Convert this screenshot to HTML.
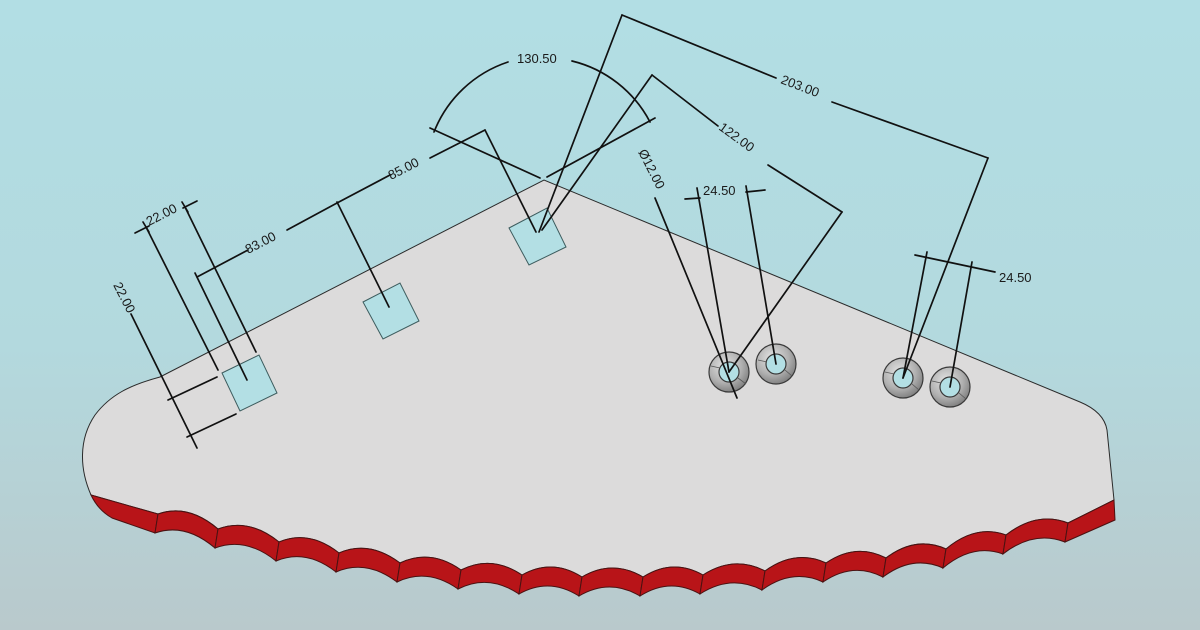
<!DOCTYPE html>
<html><head><meta charset="utf-8"><style>
html,body{margin:0;padding:0;width:1200px;height:630px;overflow:hidden}
svg{display:block}
text{font-family:"Liberation Sans",sans-serif;font-size:13px;fill:#1a1a1a}
</style></head><body>
<svg width="1200" height="630" viewBox="0 0 1200 630" xmlns="http://www.w3.org/2000/svg">
<defs>
<linearGradient id="bg" x1="0" y1="0" x2="0" y2="1">
<stop offset="0" stop-color="#b2dee4"/><stop offset="0.55" stop-color="#b3d9de"/><stop offset="1" stop-color="#b9c9cc"/>
</linearGradient>
<radialGradient id="ring" cx="0.4" cy="0.35" r="0.7">
<stop offset="0" stop-color="#e4e4e4"/><stop offset="0.6" stop-color="#b0b0b0"/><stop offset="1" stop-color="#7a7a7a"/>
</radialGradient>
</defs>
<rect width="1200" height="630" fill="url(#bg)"/>
<path d="M91,495 C80,470 78,440 95,415 C110,395 130,385 160,377 L544,180 L1080,402 Q1104,412 1107,430 L1114,500 L1068,523 Q1037,511 1006,535 Q976,524 946,549 Q916,535.5 886,558 Q856,542.5 826,563 Q795.5,549 765,571 Q734,555 703,575 Q673,558 643,577 Q612.5,559 582,577 Q552,558 522,575 Q491.5,554.5 461,570 Q430.5,548.5 400,563 Q369.5,540 339,553 Q309,529.5 279,542 Q248.5,517.5 218,529 Q188,503.5 158,514 L91,495 Z" fill="#dcdbdb" stroke="#2a2a2a" stroke-width="1"/>
<g fill="#b81418" stroke="#4a1212" stroke-width="1">
<path d="M91,495 L158,514 L155,533 L112,518 Q98,510 91,495 Z"/>
<path d="M158,514 Q188,503.5 218,529 L215,548 Q185,522.5 155,533 Z"/>
<path d="M218,529 Q248.5,517.5 279,542 L276,561 Q245.5,536.5 215,548 Z"/>
<path d="M279,542 Q309,529.5 339,553 L336,572 Q306,548.5 276,561 Z"/>
<path d="M339,553 Q369.5,540 400,563 L397,582 Q366.5,559 336,572 Z"/>
<path d="M400,563 Q430.5,548.5 461,570 L458,589 Q427.5,567.5 397,582 Z"/>
<path d="M461,570 Q491.5,554.5 522,575 L519,594 Q488.5,573.5 458,589 Z"/>
<path d="M522,575 Q552,558 582,577 L579,596 Q549,577 519,594 Z"/>
<path d="M582,577 Q612.5,559 643,577 L640,596 Q609.5,578 579,596 Z"/>
<path d="M643,577 Q673,558 703,575 L700,594 Q670,577 640,596 Z"/>
<path d="M703,575 Q734,555 765,571 L762,590 Q731,574 700,594 Z"/>
<path d="M765,571 Q795.5,549 826,563 L823,582 Q792.5,568 762,590 Z"/>
<path d="M826,563 Q856,542.5 886,558 L883,577 Q853,561.5 823,582 Z"/>
<path d="M886,558 Q916,535.5 946,549 L943,568 Q913,554.5 883,577 Z"/>
<path d="M946,549 Q976,524 1006,535 L1003,554 Q973,543 943,568 Z"/>
<path d="M1006,535 Q1037,511 1068,523 L1065,542 Q1034,530 1003,554 Z"/>
<path d="M1068,523 L1114,500 L1115,520 L1065,542 Z"/>
</g>
<g fill="#b3dfe4" stroke="#3d5c5e" stroke-width="1">
<polygon points="222,373 259,355 277,393 240,411"/>
<polygon points="363,302 400,283 419,321 383,339"/>
<polygon points="509,228 547,208 566,247 529,265"/>
</g>
<g stroke="#3a3a3a" stroke-width="1.2">
<circle cx="729" cy="372" r="20" fill="url(#ring)"/><circle cx="729" cy="372" r="10" fill="#b3dfe4"/>
<circle cx="776" cy="364" r="20" fill="url(#ring)"/><circle cx="776" cy="364" r="10" fill="#b3dfe4"/>
<circle cx="903" cy="378" r="20" fill="url(#ring)"/><circle cx="903" cy="378" r="10" fill="#b3dfe4"/>
<circle cx="950" cy="387" r="20" fill="url(#ring)"/><circle cx="950" cy="387" r="10" fill="#b3dfe4"/>
</g>
<g stroke="#555" stroke-width="0.8">
<line x1="711" y1="366" x2="720" y2="368"/><line x1="738" y1="378" x2="746" y2="384"/>
<line x1="758" y1="360" x2="767" y2="362"/><line x1="785" y1="370" x2="792" y2="376"/>
<line x1="885" y1="372" x2="894" y2="374"/><line x1="912" y1="384" x2="919" y2="390"/>
<line x1="932" y1="381" x2="941" y2="383"/><line x1="959" y1="393" x2="966" y2="399"/>
</g>
<g stroke="#111" stroke-width="1.7" fill="none" stroke-linecap="round">
<line x1="135" y1="233" x2="149" y2="226"/><line x1="183" y1="208" x2="197" y2="201"/>
<line x1="146" y1="227" x2="218" y2="370"/><line x1="185" y1="207" x2="256" y2="352"/>
<line x1="143" y1="222" x2="149" y2="232"/><line x1="182" y1="202" x2="188" y2="212"/>
<line x1="131" y1="314" x2="197" y2="448"/>
<line x1="168" y1="400" x2="217" y2="377"/><line x1="187" y1="437" x2="236" y2="414"/>
<line x1="197" y1="277" x2="248" y2="250"/><line x1="287" y1="230" x2="337" y2="203"/>
<line x1="337" y1="203" x2="390" y2="175"/><line x1="430" y1="158" x2="485" y2="130"/>
<line x1="195" y1="273" x2="247" y2="380"/>
<line x1="337" y1="202" x2="389" y2="307"/>
<line x1="485" y1="130" x2="536" y2="232"/>
<path d="M434,132 A120,120 0 0 1 508,62"/>
<path d="M572,61 A120,120 0 0 1 650,122"/>
<line x1="430" y1="128" x2="540" y2="178"/>
<line x1="655" y1="118" x2="547" y2="177"/>
<line x1="622" y1="15" x2="776" y2="78"/><line x1="832" y1="102" x2="988" y2="158"/>
<line x1="622" y1="15" x2="539" y2="232"/>
<line x1="988" y1="158" x2="903" y2="378"/>
<line x1="652" y1="75" x2="718" y2="126"/><line x1="768" y1="165" x2="842" y2="212"/>
<line x1="652" y1="75" x2="542" y2="230"/>
<line x1="842" y1="212" x2="729" y2="372"/>
<line x1="655" y1="198" x2="737" y2="398"/>
<line x1="685" y1="199" x2="700" y2="198"/><line x1="746" y1="192" x2="765" y2="190"/>
<line x1="697" y1="188" x2="729" y2="372"/><line x1="746" y1="186" x2="776" y2="364"/>
<line x1="915" y1="255" x2="995" y2="272"/>
<line x1="927" y1="252" x2="903" y2="378"/>
<line x1="972" y1="262" x2="950" y2="387"/>
</g>
<text x="0" y="0" transform="translate(149,226) rotate(-27)">22.00</text>
<text x="0" y="0" transform="translate(113,285) rotate(63)">22.00</text>
<text x="0" y="0" transform="translate(248,254) rotate(-27)">83.00</text>
<text x="0" y="0" transform="translate(391,180) rotate(-27)">85.00</text>
<text x="517" y="63">130.50</text>
<text x="0" y="0" transform="translate(780,83) rotate(21)">203.00</text>
<text x="0" y="0" transform="translate(718,129) rotate(36)">122.00</text>
<text x="0" y="0" transform="translate(638,152) rotate(63)">Ø12.00</text>
<text x="703" y="195">24.50</text>
<text x="999" y="282">24.50</text>
</svg>
</body></html>
